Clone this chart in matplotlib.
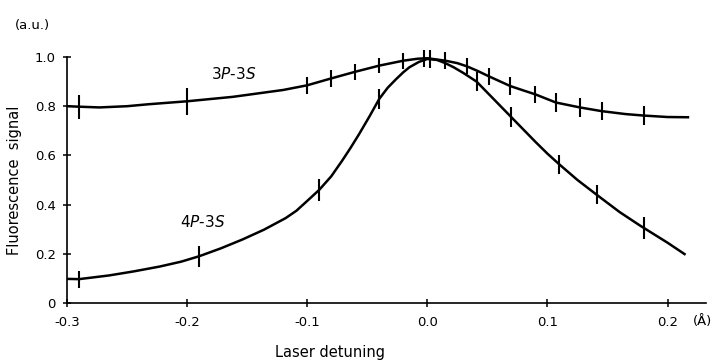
import numpy as np
import matplotlib
matplotlib.use("Agg")
import matplotlib.pyplot as plt

# smooth curves
x3_curve = [-0.300, -0.290, -0.273, -0.250, -0.232, -0.200, -0.162, -0.120, -0.100, -0.080,
            -0.060, -0.040, -0.020, -0.008, 0.000, 0.015, 0.025, 0.033, 0.042, 0.051,
            0.060, 0.069, 0.080, 0.090, 0.107, 0.127, 0.145, 0.165, 0.180, 0.200, 0.218]
y3_curve = [0.800, 0.798, 0.795, 0.800, 0.808, 0.820, 0.838, 0.866, 0.885, 0.913,
            0.940, 0.965, 0.985, 0.993, 0.995, 0.985, 0.975, 0.962, 0.943, 0.922,
            0.902, 0.882, 0.864, 0.848, 0.815, 0.795, 0.780, 0.768, 0.762, 0.756, 0.755]

x4_curve = [-0.300, -0.290, -0.265, -0.245, -0.223, -0.205, -0.190, -0.172, -0.154, -0.136,
            -0.118, -0.109, -0.100, -0.090, -0.080, -0.071, -0.064, -0.057, -0.048, -0.040,
            -0.033, -0.026, -0.020, -0.015, -0.007, 0.000, 0.008, 0.015, 0.022, 0.030,
            0.041, 0.048, 0.055, 0.062, 0.070, 0.080, 0.090, 0.100, 0.110, 0.125,
            0.141, 0.160, 0.177, 0.200, 0.215]
y4_curve = [0.098, 0.097, 0.112, 0.128, 0.148, 0.168, 0.190, 0.222, 0.258, 0.298,
            0.345, 0.375, 0.415, 0.460, 0.515, 0.578, 0.630, 0.685, 0.760, 0.830,
            0.875, 0.910, 0.938, 0.958, 0.980, 0.992, 0.988, 0.975, 0.958, 0.935,
            0.900, 0.865, 0.830, 0.795, 0.755, 0.705, 0.655, 0.607, 0.563, 0.500,
            0.440, 0.370, 0.315, 0.245, 0.196]

# measured points with error bars
x3_pts = [-0.29, -0.20, -0.10, -0.08, -0.06, -0.04, -0.02, -0.003, 0.015, 0.033,
          0.051, 0.069, 0.09, 0.107, 0.127, 0.145, 0.18]
y3_pts = [0.798, 0.820, 0.885, 0.913, 0.940, 0.965, 0.985, 0.995, 0.985, 0.962,
          0.922, 0.882, 0.848, 0.815, 0.795, 0.780, 0.762]
e3_pts = [0.048, 0.055, 0.035, 0.035, 0.032, 0.032, 0.032, 0.035, 0.035, 0.032,
          0.035, 0.038, 0.036, 0.038, 0.04, 0.037, 0.04]

x4_pts = [-0.29, -0.19, -0.09, -0.04, 0.002, 0.041, 0.07, 0.11, 0.141, 0.18]
y4_pts = [0.097, 0.190, 0.460, 0.830, 0.992, 0.900, 0.755, 0.563, 0.440, 0.305]
e4_pts = [0.035, 0.042, 0.044, 0.04, 0.035, 0.04, 0.041, 0.038, 0.038, 0.044]

x_ticks = [-0.3, -0.2, -0.1, 0.0, 0.1, 0.2]
x_ticklabels = ["-0.3", "-0.2", "-0.1", "0.0", "0.1", "0.2"]
y_ticks = [0, 0.2, 0.4, 0.6, 0.8, 1.0]
y_ticklabels = ["0", "0.2", "0.4", "0.6", "0.8", "1.0"]

plt.rcParams['font.family'] = ['DejaVu Sans']

fig = plt.figure(figsize=(7.14, 3.6), dpi=100)
ax = fig.add_axes([67 / 714, 1 - 303 / 360, (706 - 67) / 714, (303 - 57) / 360])

line_kw = dict(color='black', lw=1.8, clip_on=False,
               solid_joinstyle='round', solid_capstyle='butt')
ax.plot(x3_curve, y3_curve, **line_kw)
ax.plot(x4_curve, y4_curve, **line_kw)
ax.errorbar(x3_pts, y3_pts, yerr=e3_pts, fmt='none', ecolor='black',
            elinewidth=1.5, capsize=0, clip_on=False)
ax.errorbar(x4_pts, y4_pts, yerr=e4_pts, fmt='none', ecolor='black',
            elinewidth=1.5, capsize=0, clip_on=False)

ax.set_xlim(-0.3, 0.232)
ax.set_ylim(0, 1.0)
ax.spines['top'].set_visible(False)
ax.spines['right'].set_visible(False)
ax.spines['left'].set_linewidth(1.2)
ax.spines['bottom'].set_linewidth(1.2)

ax.set_xticks(x_ticks)
ax.set_xticklabels(x_ticklabels)
ax.set_yticks(y_ticks)
ax.set_yticklabels(y_ticklabels)
ax.tick_params(direction='inout', length=6, width=1.1, labelsize=9.5, pad=5)
ax.tick_params(axis='x', pad=6)

ax.set_ylabel("Fluorescence  signal", fontsize=10.5, labelpad=9)
fig.text(330 / 714, 1 - 352 / 360, "Laser detuning", fontsize=10.5,
         ha='center', va='center')
fig.text(703 / 714, 1 - 322 / 360, "(Å)", fontsize=9.5, ha='center', va='center')
fig.text(15 / 714, 1 - 25 / 360, "(a.u.)", fontsize=9.5, ha='left', va='center')

ax.text(-0.161, 0.93, r"3$\mathit{P}$-3$\mathit{S}$", fontsize=11,
        ha='center', va='center')
ax.text(-0.187, 0.33, r"4$\mathit{P}$-3$\mathit{S}$", fontsize=11,
        ha='center', va='center')

fig.savefig("out.png", dpi=100)
